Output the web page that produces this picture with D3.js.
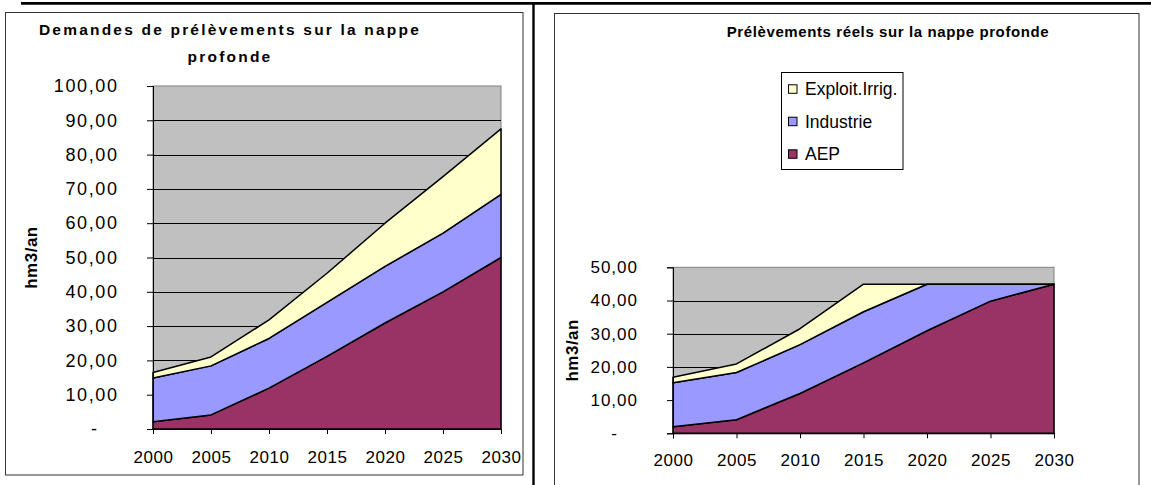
<!DOCTYPE html>
<html>
<head>
<meta charset="utf-8">
<script src="https://cdn.jsdelivr.net/npm/d3@7"></script>
<style>
  html, body { margin: 0; padding: 0; background: #fff; }
  svg { display: block; }
  text { font-family: "Liberation Sans", Arial, sans-serif; fill: #000; }
</style>
</head>
<body>
<svg id="chart" width="1151" height="485"></svg>
<script>
// ---------- DATA ----------
const years = [2000, 2005, 2010, 2015, 2020, 2025, 2030];
const seriesKeys = ["AEP", "Industrie", "Exploit.Irrig."];

// Demandes (hm3/an)
const demandAEP       = [2.1, 4.1, 11.9, 21.2, 30.9, 40.0, 50.0];
const demandIndustrie = [12.8, 14.3, 14.5, 15.7, 16.5, 17.1, 18.4];
const demandIrrig     = [1.6, 2.6, 5.4, 8.5, 12.6, 16.5, 19.1];

// Prélèvements réels (hm3/an)
const realAEP       = [2.0, 4.1, 12.0, 21.2, 30.9, 39.8, 44.9];
const realIndustrie = [13.2, 14.2, 14.7, 15.4, 14.0, 5.1, 0];
const realIrrig     = [1.7, 2.6, 4.8, 8.3, 0, 0, 0];

const yTicksDemand = [0, 10, 20, 30, 40, 50, 60, 70, 80, 90, 100];
const yTicksReal   = [0, 10, 20, 30, 40, 50];

const titleDemandLines = ["Demandes de prélèvements sur la nappe", "profonde"];
const titleReal = "Prélèvements réels sur la nappe profonde";
const yAxisLabel = "hm3/an";
const legendLabels = ["Exploit.Irrig.", "Industrie", "AEP"];

const colors = { "AEP": "#993366", "Industrie": "#9999FF", "Exploit.Irrig.": "#FFFFCC" };

// ---------- DRAW ----------
const svg = d3.select("#chart");

// page decorations (table borders)
svg.append("line").attr("x1", 21).attr("x2", 1151).attr("y1", 3.3).attr("y2", 3.3)
  .attr("stroke", "#000").attr("stroke-width", 2.7);
svg.append("line").attr("x1", 533.5).attr("x2", 533.5).attr("y1", 2).attr("y2", 485)
  .attr("stroke", "#000").attr("stroke-width", 2.4);

// chart frames
svg.append("rect").attr("x", 5.5).attr("y", 12.5).attr("width", 517.5).attr("height", 462.5)
  .attr("fill", "#fff").attr("stroke", "#333").attr("stroke-width", 1);
svg.append("rect").attr("x", 554.5).attr("y", 13.5).attr("width", 584.5).attr("height", 480)
  .attr("fill", "#fff").attr("stroke", "#333").attr("stroke-width", 1);

const fmt = v => v === 0 ? "-" : v.toFixed(2).replace(".", ",");

function buildRows(aep, ind, irr) {
  return years.map((y, i) => ({ year: y, "AEP": aep[i], "Industrie": ind[i], "Exploit.Irrig.": irr[i] }));
}

function drawChart(opt) {
  const g = svg.append("g");
  const x = d3.scalePoint().domain(years).range([opt.left, opt.right]);
  const y = d3.scaleLinear().domain([0, opt.yMax]).range([opt.bottom, opt.top]);

  // plot background
  g.append("rect").attr("x", opt.left).attr("y", opt.top)
    .attr("width", opt.right - opt.left).attr("height", opt.bottom - opt.top)
    .attr("fill", "#C0C0C0").attr("stroke", "#808080").attr("stroke-width", 1);

  // gridlines
  g.append("g").selectAll("line")
    .data(opt.ticks.filter(t => t > 0 && t < opt.yMax))
    .join("line")
    .attr("x1", opt.left).attr("x2", opt.right)
    .attr("y1", d => Math.round(y(d)) + 0.5).attr("y2", d => Math.round(y(d)) + 0.5)
    .attr("stroke", "#000").attr("stroke-width", 1);

  // stacked areas
  const stacked = d3.stack().keys(seriesKeys)(opt.rows);
  const area = d3.area()
    .x(d => x(d.data.year))
    .y0(d => y(d[0]))
    .y1(d => y(d[1]));
  g.append("g").selectAll("path")
    .data(stacked)
    .join("path")
    .attr("d", area)
    .attr("fill", d => colors[d.key])
    .attr("stroke", "#000")
    .attr("stroke-width", 1.5)
    .attr("stroke-linejoin", "round");

  // y axis
  const yAxis = d3.axisLeft(y).tickValues(opt.ticks).tickFormat(fmt).tickSize(6).tickPadding(opt.yPad);
  const ya = g.append("g").attr("transform", `translate(${opt.left},0)`).call(yAxis);
  ya.select(".domain").attr("stroke", "#000");
  ya.selectAll(".tick line").attr("stroke", "#000");
  ya.selectAll(".tick text")
    .attr("font-size", opt.yFont).attr("letter-spacing", opt.ySpacing + "px")
    .attr("font-family", "Liberation Sans, Arial, sans-serif")
    .attr("dx", d => d === 0 ? -20 : 0);

  // x axis
  const xAxis = d3.axisBottom(x).tickSize(5).tickPadding(opt.xPad);
  const xa = g.append("g").attr("transform", `translate(0,${opt.bottom})`).call(xAxis);
  xa.select(".domain").attr("stroke", "#000");
  xa.selectAll(".tick line").attr("stroke", "#000");
  xa.selectAll(".tick text")
    .attr("font-size", 17).attr("letter-spacing", "0.5px")
    .attr("font-family", "Liberation Sans, Arial, sans-serif");

  // y axis title
  g.append("text")
    .attr("transform", `translate(${opt.yTitleX},${(opt.top + opt.bottom) / 2}) rotate(-90)`)
    .attr("text-anchor", "middle")
    .attr("dominant-baseline", "central")
    .attr("font-size", 17).attr("font-weight", "bold").attr("letter-spacing", "0.5px")
    .text(yAxisLabel);

  return { x, y };
}

// Left chart: Demandes
drawChart({
  rows: buildRows(demandAEP, demandIndustrie, demandIrrig),
  left: 153, right: 501, top: 86, bottom: 429, yMax: 100,
  ticks: yTicksDemand, xPad: 17, yTitleX: 31,
  yFont: 18, ySpacing: 1.6, yPad: 28.5
});
svg.append("g").selectAll("text")
  .data(titleDemandLines)
  .join("text")
  .attr("x", 230).attr("y", (d, i) => i === 0 ? 34.5 : 62)
  .attr("text-anchor", "middle")
  .attr("font-size", 15.5).attr("font-weight", "bold").attr("letter-spacing", "2.2px")
  .text(d => d);

// Right chart: Prélèvements réels
drawChart({
  rows: buildRows(realAEP, realIndustrie, realIrrig),
  left: 673, right: 1054, top: 267.3, bottom: 433.3, yMax: 50,
  ticks: yTicksReal, xPad: 16, yTitleX: 572.5,
  yFont: 17, ySpacing: 1, yPad: 29
});
svg.append("text")
  .attr("x", 888).attr("y", 37)
  .attr("text-anchor", "middle")
  .attr("font-size", 15).attr("font-weight", "bold").attr("letter-spacing", "0.6px")
  .text(titleReal);

// legend
const lg = svg.append("g");
lg.append("rect").attr("x", 781.5).attr("y", 72.5).attr("width", 121.5).attr("height", 97)
  .attr("fill", "#fff").attr("stroke", "#000").attr("stroke-width", 1);
const rowsY = [89.3, 121.7, 154.3];
const items = lg.selectAll("g.item").data(legendLabels).join("g").attr("class", "item");
items.append("rect")
  .attr("x", 788.5).attr("y", (d, i) => rowsY[i] - 4.5)
  .attr("width", 8.5).attr("height", 8.5)
  .attr("fill", d => colors[d]).attr("stroke", "#000").attr("stroke-width", 1);
items.append("text")
  .attr("x", 805).attr("y", (d, i) => rowsY[i] + 6)
  .attr("font-size", 17.5)
  .text(d => d);
</script>
</body>
</html>
